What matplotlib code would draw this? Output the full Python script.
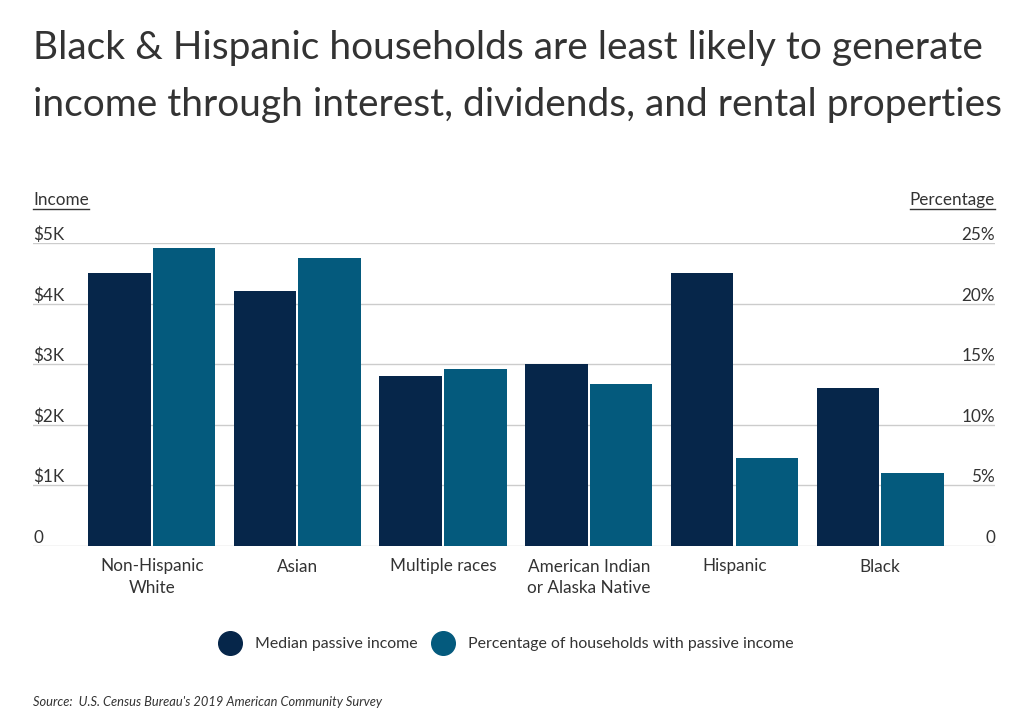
import matplotlib.pyplot as plt
from matplotlib.lines import Line2D
import numpy as np

# Dane
kategorie = ["Non-Hispanic\nWhite", "Asian", "Multiple races",
             "American Indian\nor Alaska Native", "Hispanic", "Black"]
dochod = [4500, 4200, 2800, 3000, 4500, 2600]          # mediana dochodu pasywnego ($)
procent = [24.6, 23.8, 14.6, 13.4, 7.3, 6.0]           # % gospodarstw z dochodem pasywnym
etykiety_lewe = ["0", "$1K", "$2K", "$3K", "$4K", "$5K"]
etykiety_prawe = ["0", "5%", "10%", "15%", "20%", "25%"]

granat = "#06264a"
morski = "#045a7d"
tekst = "#333333"

plt.rcParams['font.family'] = ['Lato', 'DejaVu Sans']

fig = plt.figure(figsize=(10.24, 7.15), dpi=100)
ax = fig.add_axes([33 / 1024, 1 - 546 / 715, 962 / 1024, 303 / 715])
ax2 = ax.twinx()

x = np.arange(len(kategorie))
szer = 0.43
ax.bar(x - szer / 2 - 0.007, dochod, width=szer, color=granat, zorder=3)
ax2.bar(x + szer / 2 + 0.007, procent, width=szer, color=morski, zorder=3)

ax.set_xlim(-0.815, 5.788)
ax.set_ylim(0, 5000)
ax2.set_ylim(0, 25)

for a in (ax, ax2):
    for s in a.spines.values():
        s.set_visible(False)
    a.set_yticks([])
    a.tick_params(length=0)

# linie siatki
for v in range(0, 5001, 1000):
    ax.axhline(v, color="#cccccc", lw=1, zorder=1)

# etykiety osi nad liniami siatki
for i, lab in enumerate(etykiety_lewe):
    ax.text(0, i * 1000, lab, transform=ax.get_yaxis_transform(),
            ha="left", va="bottom", fontsize=12.3, color=tekst)
for i, lab in enumerate(etykiety_prawe):
    ax2.text(1, i * 5, lab, transform=ax2.get_yaxis_transform(),
             ha="right", va="bottom", fontsize=12.3, color=tekst)

ax.set_xticks(x)
ax.set_xticklabels(kategorie, fontsize=12.3, color=tekst, linespacing=1.45, va="top")
ax.tick_params(axis="x", pad=9)

# tytul
fig.text(33 / 1024, 1 - 30 / 715,
         "Black & Hispanic households are least likely to generate\n"
         "income through interest, dividends, and rental properties",
         ha="left", va="top", fontsize=28, color=tekst, linespacing=1.72)

# podpisy osi z podkresleniem
t1 = fig.text(33 / 1024, 1 - 200 / 715, "Income", ha="left", va="center",
              fontsize=12.3, color=tekst)
t2 = fig.text(995 / 1024, 1 - 200 / 715, "Percentage", ha="right", va="center",
              fontsize=12.3, color=tekst)
fig.canvas.draw()
r = fig.canvas.get_renderer()
for t in (t1, t2):
    bb = t.get_window_extent(renderer=r).transformed(fig.transFigure.inverted())
    fig.add_artist(Line2D([bb.x0, bb.x1], [1 - 209 / 715] * 2,
                          transform=fig.transFigure, color=tekst, lw=1))

# legenda
uchwyty = [Line2D([], [], marker="o", ls="", color=granat, markersize=17),
           Line2D([], [], marker="o", ls="", color=morski, markersize=17)]
fig.legend(uchwyty, ["Median passive income", "Percentage of households with passive income"],
           loc="center", bbox_to_anchor=(504 / 1024, 1 - 644 / 715), ncol=2,
           frameon=False, fontsize=11.4, handletextpad=0.6, columnspacing=0.6,
           labelcolor=tekst)

fig.text(33 / 1024, 1 - 702 / 715,
         "Source:  U.S. Census Bureau's 2019 American Community Survey",
         ha="left", va="center", fontsize=9.3, style="italic", color=tekst)

plt.savefig("out.png", dpi=100)
